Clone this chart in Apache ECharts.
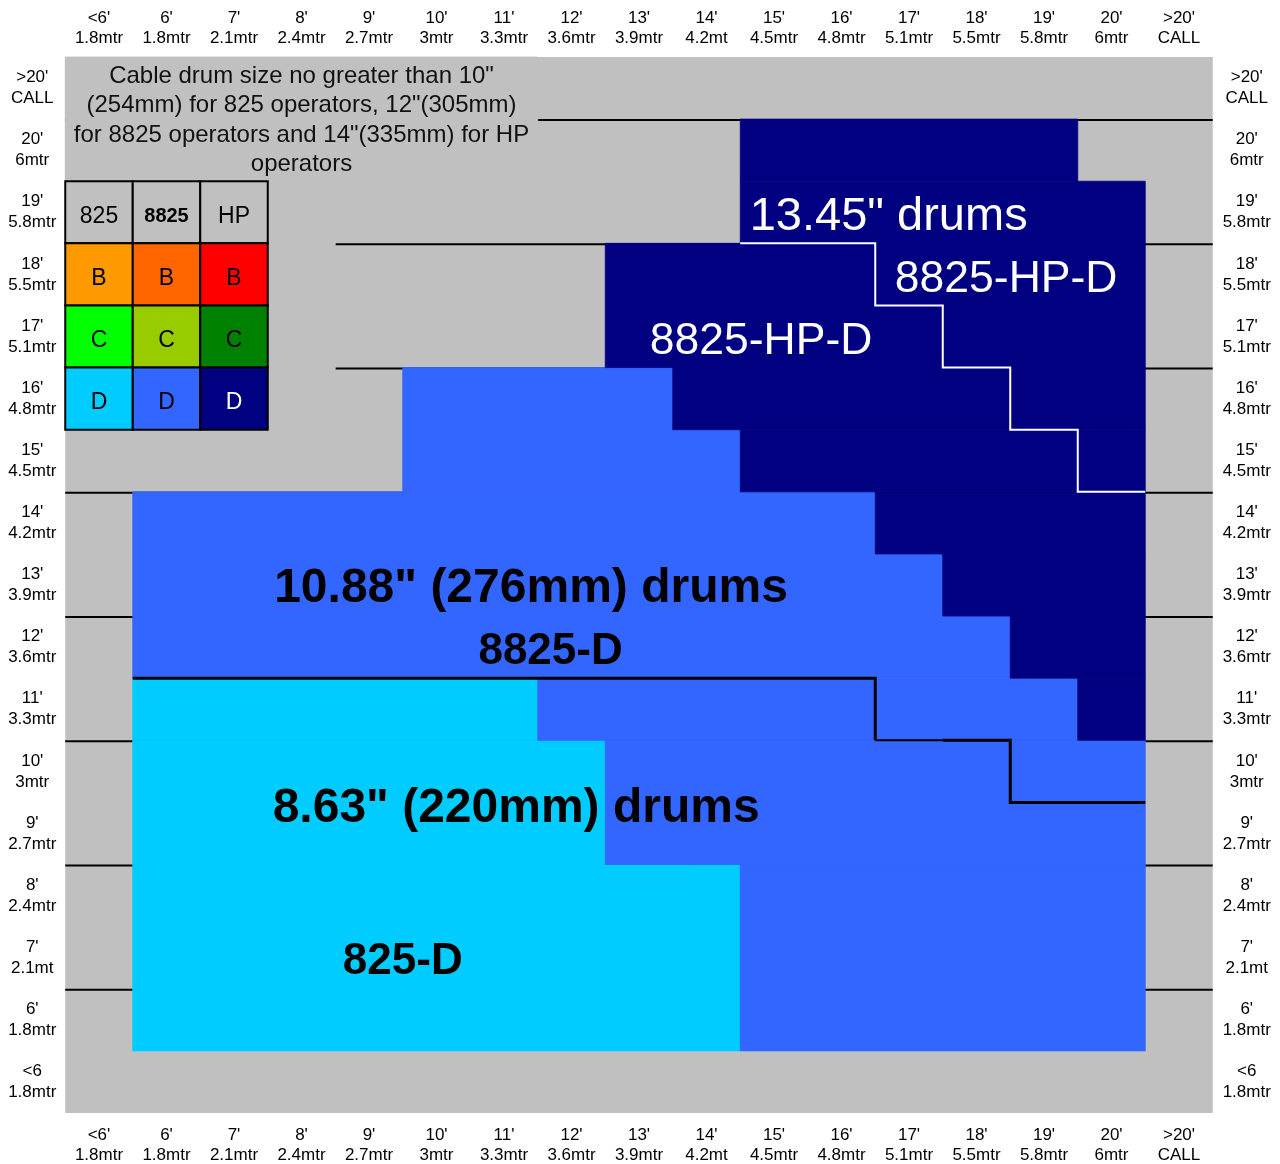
<!DOCTYPE html>
<html>
<head>
<meta charset="utf-8">
<script src="https://cdn.jsdelivr.net/npm/echarts@6/dist/echarts.min.js"></script>
<style>html,body{margin:0;padding:0;background:#fff}#chart{width:1280px;height:1164px}</style>
</head>
<body>
<div id="chart"></div>
<script>
// ---- categories (columns = cable length, rows = height, bottom -> top) ----
const topBottomLabels = ["<6'\n1.8mtr","6'\n1.8mtr","7'\n2.1mtr","8'\n2.4mtr","9'\n2.7mtr","10'\n3mtr","11'\n3.3mtr","12'\n3.6mtr","13'\n3.9mtr","14'\n4.2mt","15'\n4.5mtr","16'\n4.8mtr","17'\n5.1mtr","18'\n5.5mtr","19'\n5.8mtr","20'\n6mtr",">20'\nCALL"];
const sideLabels = ["<6\n1.8mtr","6'\n1.8mtr","7'\n2.1mt","8'\n2.4mtr","9'\n2.7mtr","10'\n3mtr","11'\n3.3mtr","12'\n3.6mtr","13'\n3.9mtr","14'\n4.2mtr","15'\n4.5mtr","16'\n4.8mtr","17'\n5.1mtr","18'\n5.5mtr","19'\n5.8mtr","20'\n6mtr",">20'\nCALL"];

// ---- zones: [rowFrom, rowTo, colFrom, colTo] (category indices) ----
const zone825D  = [[1,3,1,9],[4,5,1,7],[6,6,1,6]];
const zone8825D = [[1,3,10,15],[4,5,8,15],[6,6,7,14],[7,7,1,13],[8,8,1,12],[9,9,1,11],[10,10,5,9],[11,11,5,8]];
const zoneHPD   = [[6,6,15,15],[7,7,14,15],[8,8,13,15],[9,9,12,15],[10,10,10,15],[11,11,9,15],[12,13,8,15],[14,14,10,15],[15,15,10,14]];
const zoneNote  = [[15,16,0,6]];
const zoneSpacer = [[11,14,3,3]];

// ---- boundaries as cell-edge points [colEdge, rowEdge] ----
const boundaryHP = [[10,14],[12,14],[12,13],[13,13],[13,12],[14,12],[14,11],[15,11],[15,10],[16,10]];
const boundary825a = [[1,7],[12,7],[12,6]];
const boundary825b = [[12,6],[13,6]];
const boundary825c = [[13,6],[14,6],[14,5],[16,5]];

// ---- horizontal rule rows (edges) ----
const ruleRows = [2,4,6,8,10,12,14,16];

// ---- legend table ----
const legendHeader = ['825','8825','HP'];
const legendClasses = ['B','C','D'];
const legendColors = [['#ff9900','#ff6600','#ff0000'],['#00ff00','#99cc00','#008000'],['#00ccff','#3366ff','#000080']];

// ---- notes / annotations: [text, col, row, kind] ----
const noteText = 'Cable drum size no greater than 10"\n(254mm) for 825 operators, 12"(305mm)\nfor 8825 operators and 14"(335mm) for HP\noperators';
const annotations = [
  ['13.45" drums', 9.64, 13.93, 'hpTitle'],
  ['8825-HP-D', 11.79, 12.92, 'hpTag'],
  ['8825-HP-D', 8.16, 11.92, 'hpTag'],
  ['10.88" (276mm) drums', 6.4, 7.94, 'title'],
  ['8825-D', 6.69, 6.92, 'tag'],
  ['8.63" (220mm) drums', 6.18, 4.40, 'title'],
  ['825-D', 4.5, 1.93, 'tag']
];

// ================= build =================
const FONT = "'Liberation Sans', Arial, Helvetica, sans-serif";
const zoneColors = ['#00ccff','#3366ff','#000080','#c0c0c0','#c0c0c0'];
const zoneRects = [];
[zone825D, zone8825D, zoneHPD, zoneNote, zoneSpacer].forEach((z, zi) => z.forEach(r => zoneRects.push([r[0], r[1], r[2], r[3], zi])));

const legendCells = [];
legendHeader.forEach((t, c) => legendCells.push({col: c, row: 14, text: t, fill: '#c0c0c0', color: '#000', bold: t === '8825', size: t === '8825' ? 20 : 23}));
legendClasses.forEach((t, ri) => legendHeader.forEach((h, c) => {
  const fill = legendColors[ri][c];
  legendCells.push({col: c, row: 13 - ri, text: t, fill: fill, color: fill === '#000080' ? '#fff' : '#000', bold: false, size: 23});
}));

const styleKinds = {
  hpTitle: {fill: '#fff', fontSize: 47, fontWeight: 'normal', align: 'left'},
  hpTag: {fill: '#fff', fontSize: 44.5, fontWeight: 'normal', align: 'left'},
  title: {fill: '#000', fontSize: 48, fontWeight: 'bold', align: 'center'},
  tag: {fill: '#000', fontSize: 44, fontWeight: 'bold', align: 'center'}
};

function geom(api) {
  const c = api.coord([0, 0]);
  const s = api.size([1, 1]);
  return {
    X: e => c[0] - s[0] / 2 + e * s[0],
    Y: r => c[1] + s[1] / 2 - r * s[1],
    w: s[0], h: s[1]
  };
}

function lineSeries(points, stroke, width) {
  return {
    type: 'custom', xAxisIndex: 0, yAxisIndex: 0, z: 4, silent: true,
    data: [0],
    renderItem: (p, api) => {
      const g = geom(api);
      return {type: 'polyline', shape: {points: points.map(q => [g.X(q[0]), g.Y(q[1])])},
        style: {stroke: stroke, lineWidth: width, fill: 'none', lineJoin: 'miter'}};
    }
  };
}

const axisLabelBase = {fontSize: 17, lineHeight: 20.5, color: '#000', fontFamily: FONT, interval: 0};

const option = {
  animation: false,
  grid: {left: 65.25, right: 67.25, top: 57, bottom: 51, show: true, backgroundColor: '#c0c0c0', borderWidth: 0,
    containLabel: false, outerBoundsMode: 'none'},
  xAxis: [
    {type: 'category', data: topBottomLabels, position: 'bottom', axisLine: {show: false}, axisTick: {show: false}, splitLine: {show: false},
      axisLabel: Object.assign({margin: 12}, axisLabelBase)},
    {type: 'category', data: topBottomLabels, position: 'top', axisLine: {show: false}, axisTick: {show: false}, splitLine: {show: false},
      axisLabel: Object.assign({margin: 8}, axisLabelBase)}
  ],
  yAxis: [
    {type: 'category', data: sideLabels, position: 'left', axisLine: {show: false}, axisTick: {show: false}, splitLine: {show: false},
      axisLabel: Object.assign({margin: 33, align: 'center', padding: [6, 0, 0, 0]}, axisLabelBase, {lineHeight: 21})},
    {type: 'category', data: sideLabels, position: 'right', axisLine: {show: false}, axisTick: {show: false}, splitLine: {show: false},
      axisLabel: Object.assign({margin: 34, align: 'center', padding: [6, 0, 0, 0]}, axisLabelBase, {lineHeight: 21})}
  ],
  series: [
    { // horizontal rules
      type: 'custom', xAxisIndex: 0, yAxisIndex: 0, z: 1, silent: true,
      data: ruleRows.map(r => [r]),
      renderItem: (p, api) => {
        const g = geom(api);
        const y = g.Y(api.value(0)) + 1;
        return {type: 'line', shape: {x1: g.X(0), y1: y, x2: g.X(17), y2: y}, style: {stroke: '#000', lineWidth: 2}};
      }
    },
    { // zones
      type: 'custom', xAxisIndex: 0, yAxisIndex: 0, z: 2, silent: true,
      data: zoneRects,
      renderItem: (p, api) => {
        const g = geom(api);
        const r0 = api.value(0), r1 = api.value(1), c0 = api.value(2), c1 = api.value(3);
        const col = zoneColors[api.value(4)];
        return {type: 'rect', shape: {x: g.X(c0), y: g.Y(r1 + 1), width: (c1 - c0 + 1) * g.w, height: (r1 - r0 + 1) * g.h},
          style: {fill: col, stroke: col, lineWidth: 0.8}};
      }
    },
    lineSeries(boundaryHP, '#fff', 2),
    lineSeries(boundary825a, '#000', 3),
    lineSeries(boundary825b, '#000', 2),
    lineSeries(boundary825c, '#000', 3),
    { // legend table
      type: 'custom', xAxisIndex: 0, yAxisIndex: 0, z: 5, silent: true,
      data: legendCells.map(c => [c.col, c.row]),
      renderItem: (p, api) => {
        const g = geom(api);
        const c = legendCells[p.dataIndex];
        const x = g.X(c.col), y = g.Y(c.row + 1);
        return {type: 'group', children: [
          {type: 'rect', shape: {x: x, y: y, width: g.w, height: g.h}, style: {fill: c.fill, stroke: '#000', lineWidth: 2}},
          {type: 'text', x: x + g.w / 2, y: y + g.h / 2 + 4, style: {text: c.text, fill: c.color, fontSize: c.size, fontWeight: c.bold ? 'bold' : 'normal', fontFamily: FONT, align: 'center', verticalAlign: 'middle'}}
        ]};
      }
    },
    { // note
      type: 'custom', xAxisIndex: 0, yAxisIndex: 0, z: 5, silent: true,
      data: zoneNote.map(r => r),
      renderItem: (p, api) => {
        const g = geom(api);
        const r0 = api.value(0), r1 = api.value(1), c0 = api.value(2), c1 = api.value(3);
        return {type: 'text', x: (g.X(c0) + g.X(c1 + 1)) / 2, y: (g.Y(r0) + g.Y(r1 + 1)) / 2 + 1.5,
          style: {text: noteText, fill: '#111', fontSize: 24, lineHeight: 29.5, fontFamily: FONT, align: 'center', verticalAlign: 'middle'}};
      }
    },
    { // annotations
      type: 'custom', xAxisIndex: 0, yAxisIndex: 0, z: 6, silent: true,
      data: annotations.map(a => [a[1], a[2]]),
      renderItem: (p, api) => {
        const g = geom(api);
        const a = annotations[p.dataIndex];
        const s = styleKinds[a[3]];
        return {type: 'text', x: g.X(a[1] + 0.5), y: g.Y(a[2] + 0.5),
          style: {text: a[0], fill: s.fill, fontSize: s.fontSize, fontWeight: s.fontWeight, fontFamily: FONT, align: s.align, verticalAlign: 'middle'}};
      }
    }
  ]
};

const chart = echarts.init(document.getElementById('chart'), null, {renderer: 'canvas'});
chart.setOption(option);
</script>
</body>
</html>
